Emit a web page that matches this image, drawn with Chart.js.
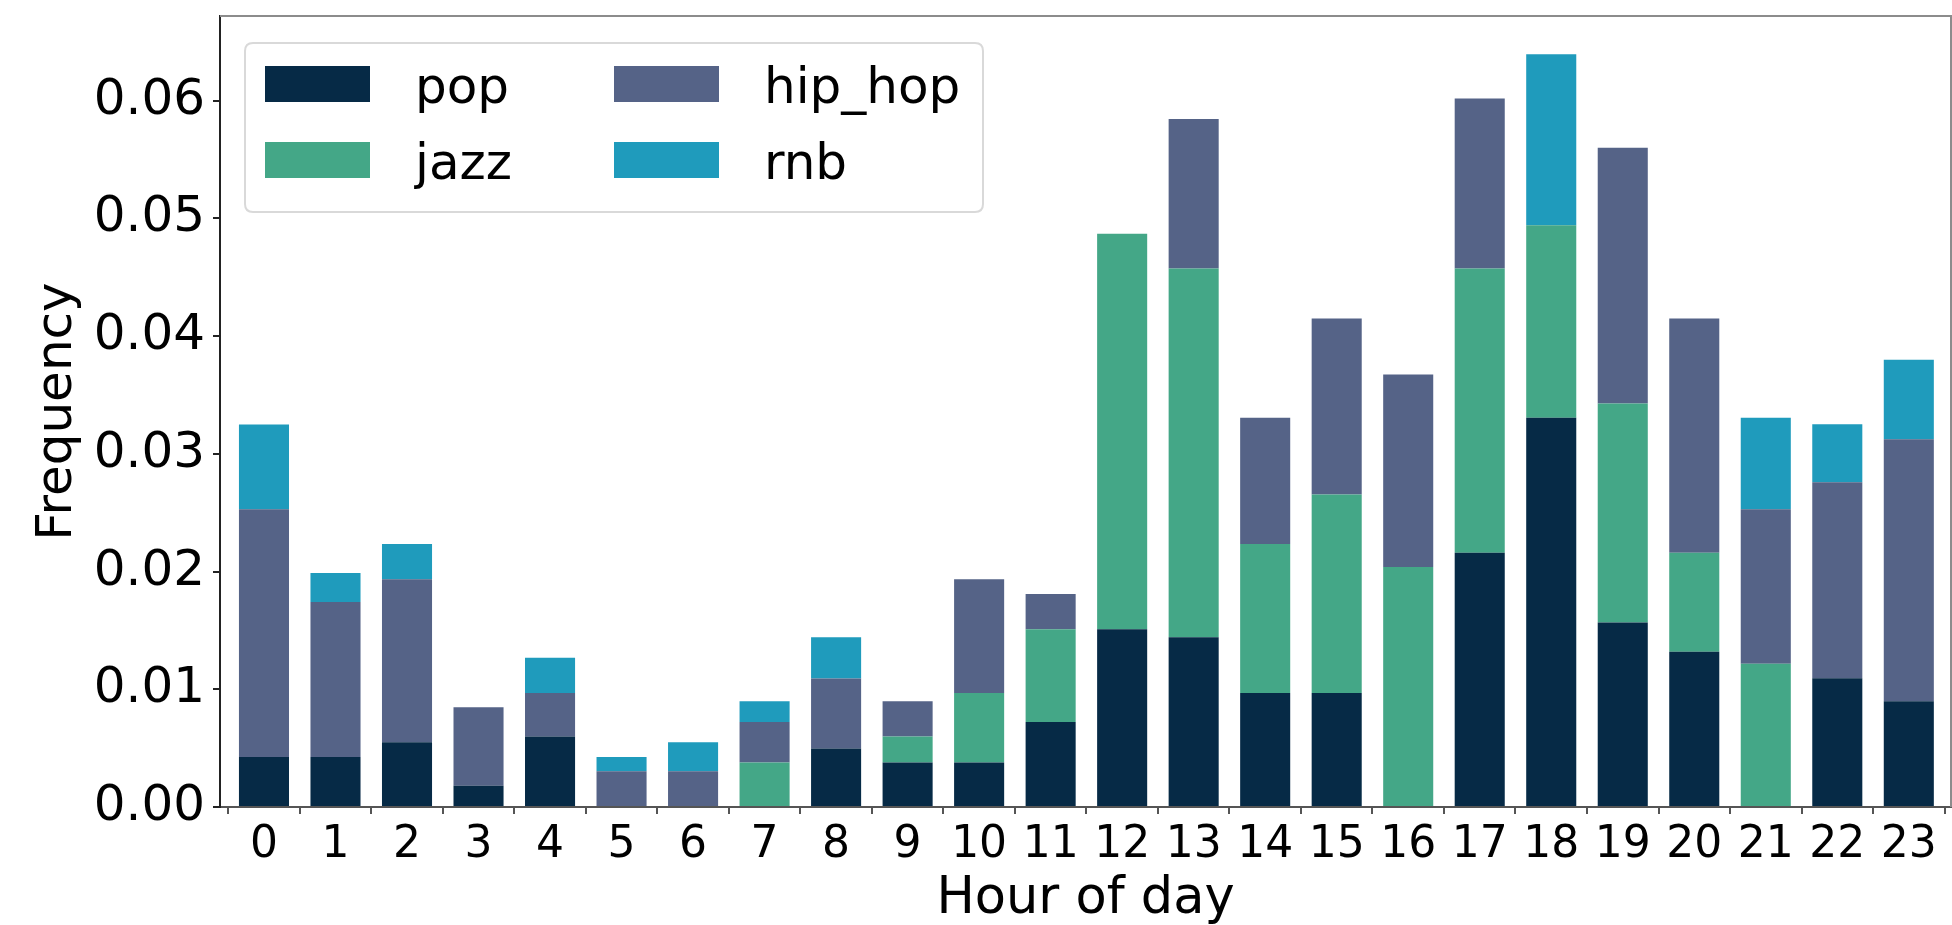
<!DOCTYPE html>
<html>
<head>
<meta charset="utf-8">
<script src="https://cdn.jsdelivr.net/npm/chart.js@4.4.1/dist/chart.umd.min.js"></script>
<style>
  html, body { margin: 0; padding: 0; background: #ffffff; }
  #wrap { width: 1952px; height: 925px; position: relative; }
</style>
</head>
<body>
<div id="wrap"><canvas id="c" width="1952" height="925"></canvas></div>
<script>
// ---- data ----
const hours = [0, 1, 2, 3, 4, 5, 6, 7, 8, 9, 10, 11, 12, 13, 14, 15, 16, 17, 18, 19, 20, 21, 22, 23];
const genreNames = ['pop', 'jazz', 'hip_hop', 'rnb'];
const popValues    = [0.00425, 0.00425, 0.0055, 0.0018, 0.0060, 0, 0, 0, 0.00496, 0.00377, 0.00377, 0.00722, 0.0151, 0.01442, 0.00969, 0.00969, 0, 0.02161, 0.03306, 0.01567, 0.0132, 0, 0.01093, 0.00898];
const jazzValues   = [0, 0, 0, 0, 0, 0, 0, 0.00377, 0, 0.00223, 0.00592, 0.00788, 0.0336, 0.03133, 0.01266, 0.01685, 0.0204, 0.02414, 0.01637, 0.01861, 0.00841, 0.01218, 0, 0];
const hipHopValues = [0.02105, 0.01317, 0.01385, 0.00667, 0.00369, 0.00303, 0.00303, 0.00345, 0.00595, 0.00298, 0.00966, 0.003, 0, 0.01269, 0.01071, 0.01496, 0.01634, 0.01445, 0, 0.02172, 0.01989, 0.01312, 0.01666, 0.02227];
const rnbValues    = [0.0072, 0.00247, 0.003, 0, 0.003, 0.00122, 0.00247, 0.00176, 0.00351, 0, 0, 0, 0, 0, 0, 0, 0, 0, 0.01451, 0, 0, 0.00776, 0.00493, 0.00675];
const yTicks = [0, 0.01, 0.02, 0.03, 0.04, 0.05, 0.06];

const colors = ['#062a46', '#44a787', '#556387', '#1f9bbc'];
const seriesValues = [popValues, jazzValues, hipHopValues, rnbValues];

const FONT = "'DejaVu Sans', sans-serif";
const XTICK_SIZE = 44;
const YTICK_SIZE = 50;
const LEGEND_SIZE = 50;

const datasets = genreNames.map((name, i) => ({
  label: name,
  data: hours.map((h, j) => ({ x: h, y: seriesValues[i][j] })),
  backgroundColor: colors[i],
  borderWidth: 0,
  barPercentage: 0.7,
  categoryPercentage: 1.0
}));

// frame (top/right spines) plugin
const framePlugin = {
  id: 'frame',
  afterDraw(chart) {
    const { ctx, chartArea: a } = chart;
    ctx.save();
    ctx.strokeStyle = '#8c8c8c';
    ctx.lineWidth = 2;
    ctx.beginPath();
    ctx.moveTo(a.left, a.top);
    ctx.lineTo(a.right, a.top);
    ctx.lineTo(a.right, a.bottom);
    ctx.stroke();
    ctx.restore();
  }
};

// matplotlib-like legend inside the axes (2 columns)
const legendPlugin = {
  id: 'mplLegend',
  afterDraw(chart) {
    const { ctx, chartArea: a } = chart;
    const ds = chart.data.datasets;
    const bx = a.left + 25, by = a.top + 27, bw = 738, bh = 169;
    ctx.save();
    const r = 8;
    ctx.beginPath();
    ctx.moveTo(bx + r, by);
    ctx.lineTo(bx + bw - r, by);
    ctx.quadraticCurveTo(bx + bw, by, bx + bw, by + r);
    ctx.lineTo(bx + bw, by + bh - r);
    ctx.quadraticCurveTo(bx + bw, by + bh, bx + bw - r, by + bh);
    ctx.lineTo(bx + r, by + bh);
    ctx.quadraticCurveTo(bx, by + bh, bx, by + bh - r);
    ctx.lineTo(bx, by + r);
    ctx.quadraticCurveTo(bx, by, bx + r, by);
    ctx.closePath();
    ctx.fillStyle = 'rgba(255,255,255,0.8)';
    ctx.fill();
    ctx.strokeStyle = '#d9d9d9';
    ctx.lineWidth = 2;
    ctx.stroke();
    const colX = [bx + 20, bx + 369];
    const rowY = [by + 23, by + 99];
    const pw = 105, ph = 36;
    ctx.font = LEGEND_SIZE + 'px ' + FONT;
    ctx.textBaseline = 'alphabetic';
    ds.forEach((d, i) => {
      const col = Math.floor(i / 2), row = i % 2;
      const x = colX[col], y = rowY[row];
      ctx.fillStyle = d.backgroundColor;
      ctx.fillRect(x, y, pw, ph);
      ctx.fillStyle = '#000';
      ctx.fillText(d.label, x + pw + 45, y + ph + 1);
    });
    ctx.restore();
  }
};

new Chart(document.getElementById('c'), {
  type: 'bar',
  data: { datasets },
  options: {
    responsive: false,
    animation: false,
    devicePixelRatio: 1,
    layout: { padding: { left: 0, top: 16, right: 1, bottom: 0 } },
    plugins: {
      legend: { display: false },
      tooltip: { enabled: false }
    },
    scales: {
      x: {
        type: 'linear',
        stacked: true,
        min: -0.615,
        max: 23.59,
        offset: false,
        afterFit(s) { s.height = 118; s.paddingLeft = 0; s.paddingRight = 0; },
        grid: { display: true, drawOnChartArea: false, drawTicks: true, tickLength: 7, color: '#555', lineWidth: 2 },
        border: { display: true, color: '#555', width: 2 },
        ticks: {
          stepSize: 1,
          includeBounds: false,
          autoSkip: false,
          maxRotation: 0,
          minRotation: 0,
          padding: 5,
          color: '#000',
          font: { family: FONT, size: XTICK_SIZE },
          callback: (v) => hours.includes(v) ? String(v) : ''
        },
        title: {
          display: true,
          text: 'Hour of day',
          color: '#000',
          font: { family: FONT, size: 51 },
          padding: { top: 0, bottom: -5 }
        }
      },
      y: {
        stacked: true,
        min: 0,
        max: 0.0672,
        afterFit(s) { s.width = 220; s.paddingTop = 0; s.paddingBottom = 0; },
        afterBuildTicks(s) { s.ticks = yTicks.map(v => ({ value: v })); },
        grid: { display: true, drawOnChartArea: false, drawTicks: true, tickLength: 7, color: '#222', lineWidth: 2 },
        border: { display: true, color: '#222', width: 2 },
        ticks: {
          padding: 8,
          color: '#000',
          font: { family: FONT, size: YTICK_SIZE },
          callback: (v) => Number(v).toFixed(2)
        },
        title: {
          display: true,
          text: 'Frequency',
          color: '#000',
          font: { family: FONT, size: 50 },
          padding: { top: 28, bottom: 0 }
        }
      }
    }
  },
  plugins: [framePlugin, legendPlugin]
});
</script>
</body>
</html>
